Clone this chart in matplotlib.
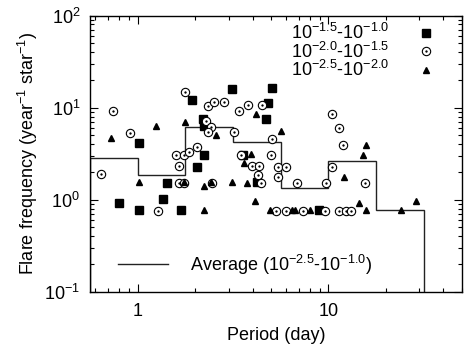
import matplotlib
matplotlib.use("Agg")
import matplotlib.pyplot as plt
from matplotlib.ticker import LogLocator, FixedLocator, FixedFormatter, NullFormatter
from matplotlib.legend_handler import HandlerTuple
from matplotlib.lines import Line2D

plt.rcParams['font.family'] = ['Liberation Sans', 'DejaVu Sans']
plt.rcParams['mathtext.fontset'] = 'custom'
plt.rcParams['mathtext.rm'] = 'Liberation Sans'
plt.rcParams['mathtext.it'] = 'Liberation Sans:italic'
plt.rcParams['mathtext.bf'] = 'Liberation Sans:bold'
plt.rcParams['mathtext.default'] = 'regular'

# ---- data ----
sq_x = [1.02, 1.93, 2.19, 2.24, 3.11, 5.03, 4.85, 4.68, 2.24, 2.05, 1.42, 3.55,
        4.22, 0.795, 1.017, 1.35, 1.69, 8.97]
sq_y = [4.12, 12.2, 7.57, 6.24, 15.9, 16.5, 11.2, 7.57, 3.02, 2.26, 1.51, 3.02,
        1.55, 0.916, 0.769, 1.01, 0.769, 0.769]

ci_x = [0.74, 0.913, 1.78, 2.33, 2.51, 2.83, 3.38, 3.81, 4.46, 2.29, 2.42, 2.34,
        3.2, 5.03, 2.05, 10.5, 11.4, 11.9, 0.646, 1.59, 1.76, 1.86, 1.64, 1.64,
        1.76, 1.28, 2.45, 3.49, 3.97, 4.34, 4.25, 4.44, 4.99, 5.41, 5.98, 5.41,
        6.83, 9.69, 10.5, 15.6, 5.32, 5.96, 7.4, 9.64, 11.4, 12.3, 13.2]
ci_y = [9.1, 5.3, 14.6, 10.5, 11.6, 11.6, 9.25, 10.8, 10.8, 7.08, 6.2, 5.37,
        5.37, 4.55, 3.78, 8.5, 6.04, 3.88, 1.89, 3.02, 3.07, 3.31, 2.33, 1.53,
        1.53, 0.755, 1.53, 3.07, 2.33, 2.33, 1.87, 1.51, 3.02, 2.29, 2.29, 1.78,
        1.51, 1.53, 2.29, 1.53, 0.755, 0.755, 0.755, 0.755, 0.755, 0.755, 0.755]

tr_x = [0.722, 1.25, 1.78, 2.56, 4.17, 5.67, 15.8, 1.02, 2.22, 2.22, 1.76, 3.14,
        3.74, 3.63, 3.92, 4.13, 4.95, 6.43, 6.69, 8.02, 12.1, 15.2, 14.4, 15.7,
        24.0, 28.6, 2.43]
tr_y = [4.67, 6.24, 6.9, 5.07, 8.5, 5.51, 3.88, 1.56, 1.39, 0.769, 1.56, 1.56,
        1.53, 2.53, 3.1, 0.97, 0.769, 0.769, 0.769, 0.769, 1.78, 3.05, 0.916,
        0.769, 0.775, 0.97, 1.55]

bin_edges = [0.5623, 1.0, 1.778, 3.162, 5.623, 10.0, 17.78, 31.62]
avg_vals = [2.83, 1.86, 6.09, 4.22, 1.355, 2.66, 0.769]

labels = ['$10^{-1.5}$-$10^{-1.0}$', '$10^{-2.0}$-$10^{-1.5}$', '$10^{-2.5}$-$10^{-2.0}$']
avg_label = 'Average ($10^{-2.5}$-$10^{-1.0}$)'
xtick_vals = [1, 10]
xtick_labels = ['1', '10']

FS = 13

fig = plt.figure(figsize=(4.66, 3.54), dpi=100)
ax = fig.add_axes([0.193, 0.176, 0.798, 0.780])
ax.set_xscale('log')
ax.set_yscale('log')
ax.set_xlim(0.5623, 50)
ax.set_ylim(0.1, 100)

st = ax.stairs(avg_vals, bin_edges, baseline=0.1, color='#222222', lw=1.0, zorder=2)

h_sq, = ax.plot(sq_x, sq_y, ls='none', marker='s', ms=5.2, mfc='black', mec='black', zorder=3)
h_ci, = ax.plot(ci_x, ci_y, ls='none', marker='o', ms=6.0, mfc='white', mec='black', mew=0.8, zorder=3)
h_cd, = ax.plot(ci_x, ci_y, ls='none', marker='o', ms=1.3, mfc='black', mec='black', mew=0.3, zorder=4)
h_tr, = ax.plot(tr_x, tr_y, ls='none', marker='^', ms=4.8, mfc='black', mec='black', zorder=3)

ax.xaxis.set_major_locator(FixedLocator(xtick_vals))
ax.xaxis.set_major_formatter(FixedFormatter(xtick_labels))
ax.xaxis.set_minor_locator(LogLocator(base=10, subs=range(2, 10), numticks=20))
ax.xaxis.set_minor_formatter(NullFormatter())
ax.yaxis.set_major_locator(LogLocator(base=10, numticks=10))
ax.yaxis.set_minor_locator(LogLocator(base=10, subs=range(2, 10), numticks=20))
ax.yaxis.set_minor_formatter(NullFormatter())

ax.tick_params(which='both', direction='in', top=True, right=True, width=0.8, colors='black')
ax.tick_params(which='major', length=6)
ax.tick_params(which='minor', length=3)
ax.tick_params(axis='x', which='major', labelsize=FS, pad=8)
ax.tick_params(axis='y', which='major', labelsize=FS, pad=7)
for s in ax.spines.values():
    s.set_linewidth(1.0)

ax.set_xlabel('Period (day)', fontsize=FS, labelpad=5)
ax.set_ylabel('Flare frequency (year$^{-1}$ star$^{-1}$)', fontsize=FS, labelpad=3)

leg1 = ax.legend([h_sq, (h_ci, h_cd), h_tr], labels, loc='upper right',
                 bbox_to_anchor=(0.951, 0.972), frameon=False, markerfirst=False,
                 fontsize=FS, handlelength=2.0, handletextpad=1.0, labelspacing=-0.1,
                 borderpad=0, borderaxespad=0,
                 handler_map={tuple: HandlerTuple(ndivide=1)})
ax.add_artist(leg1)
avg_handle = Line2D([], [], color='#222222', lw=1.0)
ax.legend([avg_handle], [avg_label], loc='lower left', bbox_to_anchor=(0.075, 0.055),
          frameon=False, fontsize=FS, handlelength=2.8, handletextpad=1.2,
          borderpad=0, borderaxespad=0)

fig.savefig('out.png', dpi=100)
